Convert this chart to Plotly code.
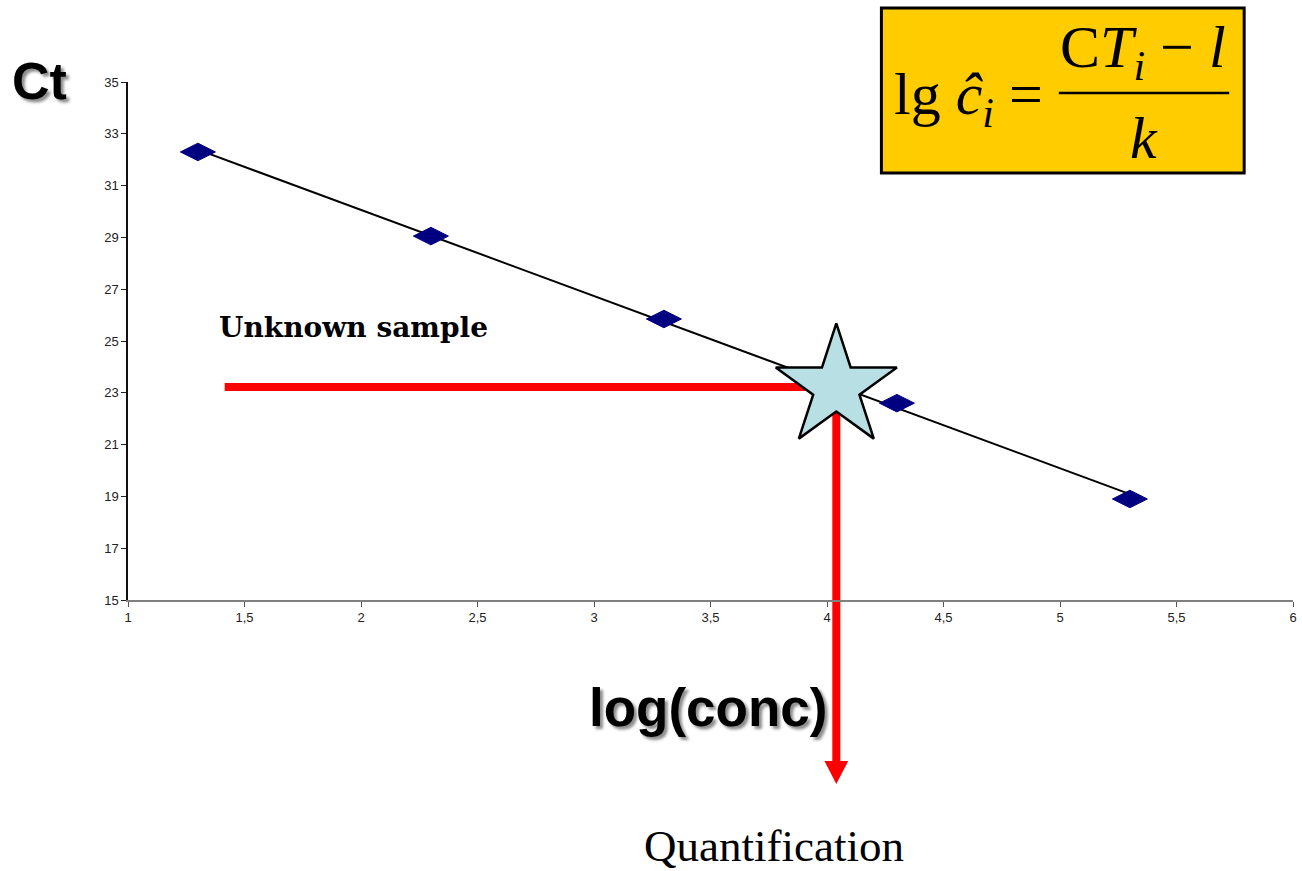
import numpy as np
import plotly.graph_objects as go

# Standard curve: log concentration vs. threshold cycle
log_conc = [1.3, 2.3, 3.3, 4.3, 5.3]
ct_values = [32.3, 29.05, 25.85, 22.6, 18.9]

# Unknown sample
unknown_log_conc = [4.04]
unknown_ct = [23.22]

x_tick_vals = [1, 1.5, 2, 2.5, 3, 3.5, 4, 4.5, 5, 5.5, 6]
x_tick_text = ["1", "1,5", "2", "2,5", "3", "3,5", "4", "4,5", "5", "5,5", "6"]
y_tick_vals = [15, 17, 19, 21, 23, 25, 27, 29, 31, 33, 35]
y_tick_text = [str(v) for v in y_tick_vals]

X_RANGE = [1, 6]
Y_RANGE = [15, 35]

# Linear trend line through the standards
slope, intercept = np.polyfit(log_conc, ct_values, 1)
fit_x = [log_conc[0], log_conc[-1]]
fit_y = [slope * x + intercept for x in fit_x]

W, H = 1302, 871
PL, PR, PT, PB = 128, 1297, 82, 600


def fx(px):
    return (px - PL) / (PR - PL)


def fy(py):
    return (PB - py) / (PB - PT)


def ct_to_paper(ct):
    return (ct - Y_RANGE[0]) / (Y_RANGE[1] - Y_RANGE[0])


fig = go.Figure()

fig.add_trace(go.Scatter(
    x=fit_x, y=fit_y, mode="lines",
    line=dict(color="black", width=2),
    hoverinfo="skip", showlegend=False,
))
fig.add_trace(go.Scatter(
    x=log_conc, y=ct_values, mode="markers",
    marker=dict(symbol="diamond-wide", size=25, color="#000080",
                line=dict(color="#000080", width=1)),
    showlegend=False,
))
fig.add_trace(go.Scatter(
    x=unknown_log_conc, y=unknown_ct, mode="markers",
    marker=dict(symbol="star", size=91, color="#B8E0E4",
                line=dict(color="black", width=2.5)),
    showlegend=False,
))

ux = unknown_log_conc[0]
uy = unknown_ct[0]
red = "#FF0000"
head_half = 0.051
head_top = fy(761)
head_tip = fy(784)

shapes = [
    # horizontal guide from the Ct axis side to the sample
    dict(type="line", xref="x", yref="y", x0=1.415, x1=ux, y0=uy, y1=uy,
         line=dict(color=red, width=8), layer="below"),
    # vertical guide down to the concentration
    dict(type="line", xref="x", yref="paper", x0=ux, x1=ux,
         y0=ct_to_paper(uy), y1=head_top,
         line=dict(color=red, width=8), layer="below"),
    dict(type="path", xref="x", yref="paper",
         path=f"M{ux - head_half},{head_top} L{ux + head_half},{head_top} L{ux},{head_tip} Z",
         fillcolor=red, line=dict(width=0), layer="below"),
    # formula box
    dict(type="rect", xref="paper", yref="paper",
         x0=fx(884), x1=fx(1248), y0=fy(173), y1=fy(8),
         fillcolor="#FFCC00", line=dict(color="black", width=3)),
    # fraction bar
    dict(type="line", xref="paper", yref="paper",
         x0=fx(1062), x1=fx(1233), y0=fy(93), y1=fy(93),
         line=dict(color="black", width=2.5)),
]

serif = "Liberation Serif, Times New Roman, serif"
sans = "Liberation Sans, Arial, sans-serif"
shadow = "3px 3px 3px rgba(0,0,0,0.45)"

annotations = [
    dict(text="<b>Ct</b>", xref="paper", yref="paper", x=fx(10), y=fy(81),
         xanchor="left", yanchor="middle", showarrow=False,
         font=dict(family=sans, size=52, color="black", shadow=shadow)),
    dict(text="<b>log(conc)</b>", xref="paper", yref="paper", x=fx(710), y=fy(707),
         xanchor="center", yanchor="middle", showarrow=False,
         font=dict(family=sans, size=53, color="black", shadow=shadow)),
    dict(text="Unknown sample", xref="paper", yref="paper", x=fx(217), y=fy(327),
         xanchor="left", yanchor="middle", showarrow=False,
         font=dict(family="DejaVu Serif, serif", size=28, color="black", weight="bold")),
    dict(text="Quantification", xref="paper", yref="paper", x=fx(776), y=fy(846),
         xanchor="center", yanchor="middle", showarrow=False,
         font=dict(family=serif, size=45, color="black")),
    # formula: lg c^_i = (CT_i - l) / k
    dict(text="lg <i>ĉ</i><sub><i>i</i></sub> =", xref="paper", yref="paper",
         x=fx(895), y=fy(98), xanchor="left", yanchor="middle", showarrow=False,
         font=dict(family=serif, size=60, color="black")),
    dict(text="C<i>T</i><sub><i>i</i></sub> − <i>l</i>", xref="paper", yref="paper",
         x=fx(1146), y=fy(52), xanchor="center", yanchor="middle", showarrow=False,
         font=dict(family=serif, size=60, color="black")),
    dict(text="<i>k</i>", xref="paper", yref="paper",
         x=fx(1147), y=fy(138), xanchor="center", yanchor="middle", showarrow=False,
         font=dict(family=serif, size=60, color="black")),
]

tick_font = dict(family=sans, size=13, color="#222222")

fig.update_layout(
    width=W, height=H,
    margin=dict(l=PL, r=W - PR, t=PT, b=H - PB, pad=0),
    paper_bgcolor="white", plot_bgcolor="white",
    separators=",.",
    shapes=shapes,
    annotations=annotations,
    xaxis=dict(range=X_RANGE, tickvals=x_tick_vals, ticktext=x_tick_text,
               showgrid=False, zeroline=False, showline=True,
               linecolor="#808080", linewidth=1.5, ticks="outside",
               ticklen=5, tickwidth=1.2, tickcolor="#555555", tickfont=tick_font),
    yaxis=dict(range=Y_RANGE, tickvals=y_tick_vals, ticktext=y_tick_text,
               showgrid=False, zeroline=False, showline=True,
               linecolor="#111111", linewidth=1.5, ticks="outside",
               ticklen=5, tickwidth=1.2, tickcolor="#222222", tickfont=tick_font),
)

fig.write_html("out.html")
